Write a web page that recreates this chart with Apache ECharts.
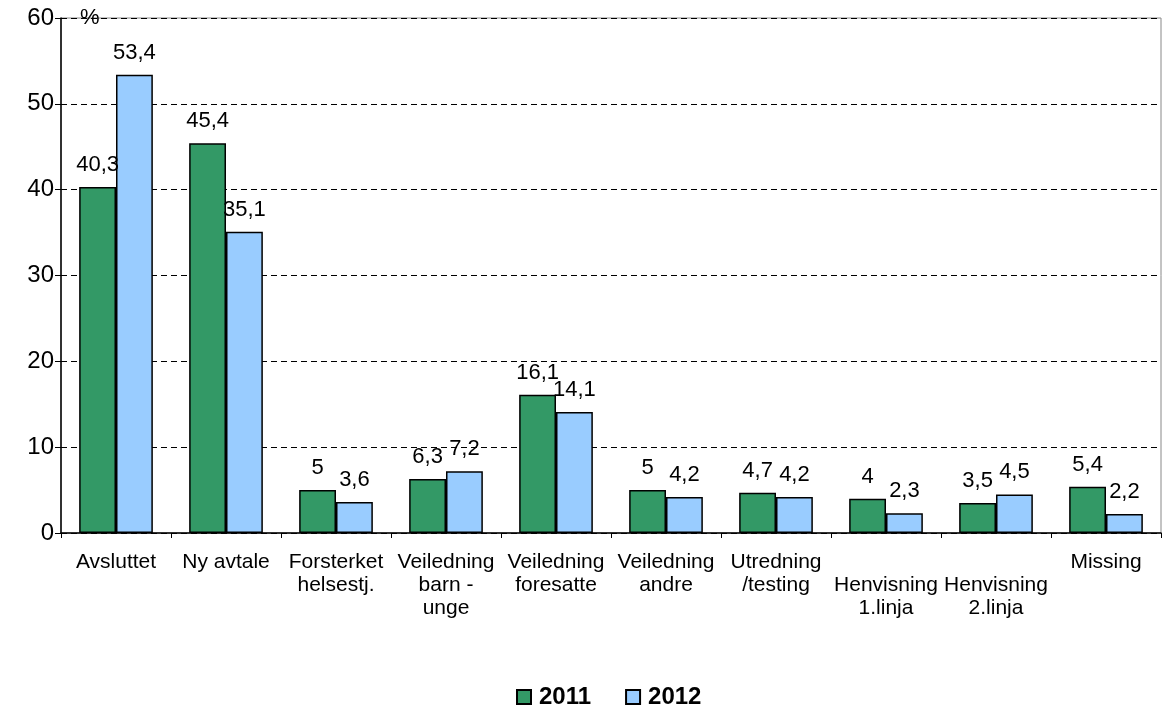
<!DOCTYPE html>
<html><head><meta charset="utf-8">
<script src="https://cdn.jsdelivr.net/npm/echarts@6/dist/echarts.min.js"></script>
<style>html,body{margin:0;padding:0;background:#fff}#c{width:1165px;height:713px}</style>
</head><body><div id="c"></div>
<script>
const categories = ["Avsluttet","Ny avtale","Forsterket\nhelsestj.","Veiledning\nbarn -\nunge","Veiledning\nforesatte","Veiledning\nandre","Utredning\n/testing","\nHenvisning\n1.linja","\nHenvisning\n2.linja","Missing"];
const values2011 = [40.3,45.4,5,6.3,16.1,5,4.7,4,3.5,5.4];
const values2012 = [53.4,35.1,3.6,7.2,14.1,4.2,4.2,2.3,4.5,2.2];
const yTicks = [0,10,20,30,40,50,60];

const font = '"Liberation Sans", Arial, sans-serif';
const lbl = {show:true, position:'top', distance:11, fontFamily:font, fontSize:22, color:'#000',
  formatter:p=>String(p.value).replace('.',',')};
const chart = echarts.init(document.getElementById('c'));
chart.setOption({
  animation:false,
  grid:{left:61, right:4, top:18, bottom:180, show:true, borderColor:'#888', borderWidth:1},
  legend:{top:680, left:511, itemWidth:14, itemHeight:14, itemGap:34,
    textStyle:{fontFamily:font, fontSize:24, fontWeight:'bold', color:'#000', padding:[0,0,0,3]},
    data:[{name:'2011', icon:'rect'},{name:'2012', icon:'rect'}]},
  xAxis:{type:'category', data:categories,
    axisLine:{lineStyle:{color:'#000', width:1.5}},
    axisTick:{show:true, length:5, lineStyle:{color:'#000'}},
    axisLabel:{fontFamily:font, fontSize:21, color:'#000', lineHeight:23, margin:18, interval:0}},
  yAxis:{type:'value', min:0, max:60, interval:10,
    axisLine:{show:true, lineStyle:{color:'#000', width:1.5}},
    axisTick:{show:true, length:6, lineStyle:{color:'#000'}},
    axisLabel:{fontFamily:font, fontSize:24, color:'#000', margin:7,
      formatter:v=>yTicks.includes(v)?String(v):''},
    splitLine:{lineStyle:{color:'#000', type:[6,4], width:1}}},
  graphic:[{type:'text', left:80, top:7, style:{text:'%', fontFamily:font, fontSize:22, fill:'#000'}}],
  series:[
    {name:'2011', type:'bar', data:values2011, barGap:'0%', barCategoryGap:'33%',
     itemStyle:{color:'#339966', borderColor:'#000', borderWidth:1.5}, label:lbl},
    {name:'2012', type:'bar', data:values2012,
     itemStyle:{color:'#99ccff', borderColor:'#000', borderWidth:1.5}, label:lbl}
  ]
});
</script></body></html>
